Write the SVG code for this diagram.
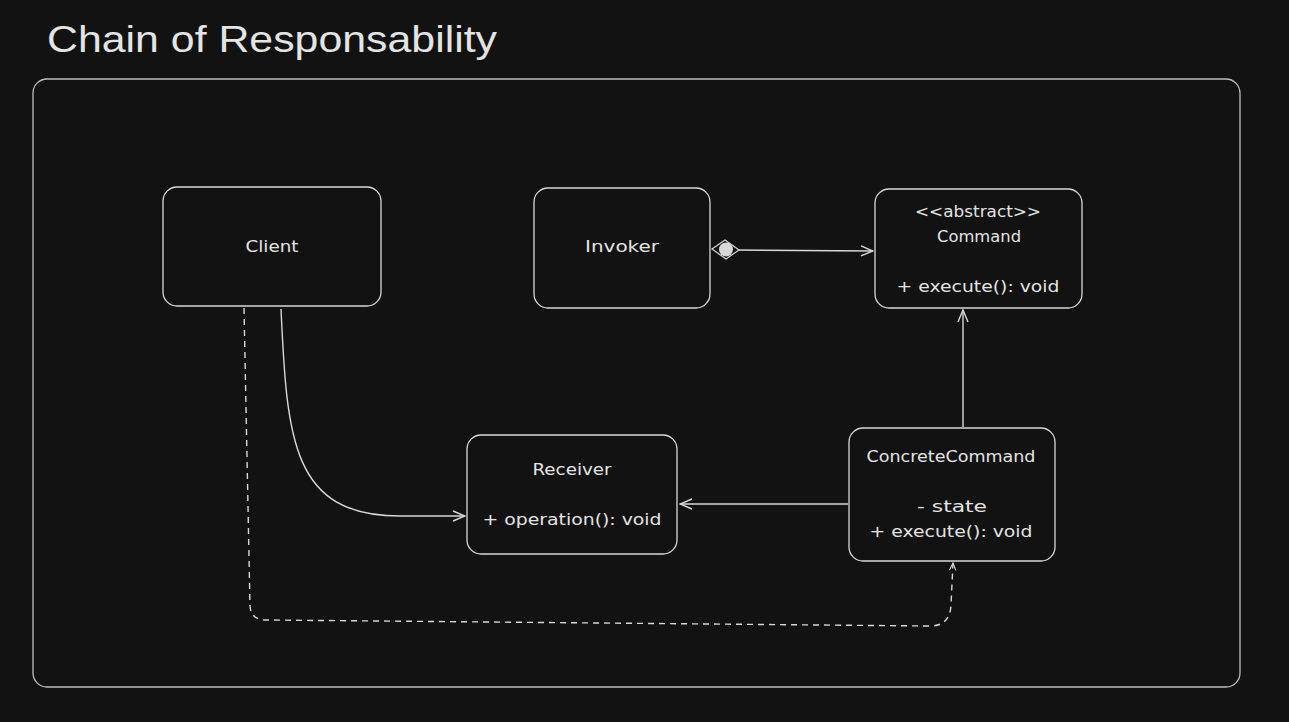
<svg xmlns="http://www.w3.org/2000/svg" width="1289" height="722" viewBox="0 0 1289 722">
<defs>
<style>
.box{fill:#121212;stroke:#d8d8d8;stroke-width:1.3}
.t{fill:#e4e4e4;font-family:"DejaVu Sans","Liberation Sans",Arial,sans-serif;font-size:16px;text-anchor:middle}
.c{fill:none;stroke:#d8d8d8;stroke-width:1.4}
.d{stroke-dasharray:6 5}
</style>
<marker id="arr" viewBox="0 0 14 14" refX="13" refY="7" markerWidth="14" markerHeight="14" markerUnits="userSpaceOnUse" orient="auto">
<path d="M1,2 L13,7 L1,12" fill="none" stroke="#d8d8d8" stroke-width="1.4"/>
</marker>
<marker id="arrs" viewBox="0 0 10 10" refX="9" refY="5" markerWidth="9" markerHeight="9" markerUnits="userSpaceOnUse" orient="auto">
<path d="M1,1.5 L9,5 L1,8.5" fill="none" stroke="#d8d8d8" stroke-width="1.2"/>
</marker>
</defs>
<rect width="1289" height="722" fill="#121212"/>
<text x="47" y="52" fill="#e4e4e4" font-family="'Liberation Sans',Arial,sans-serif" font-size="36" textLength="450" lengthAdjust="spacingAndGlyphs">Chain of Responsability</text>
<rect x="33" y="79" width="1207" height="608" rx="14" fill="none" stroke="#bdbdbd" stroke-width="1.3"/>
<g id="connectors">
<path class="c" d="M738,250 L873,251" marker-end="url(#arr)"/>
<path d="M712,249 L725,240 L739,250 L726,259 Z" fill="#121212" stroke="#d8d8d8" stroke-width="1.2"/>
<circle cx="726" cy="249.5" r="7" fill="#d8d8d8"/>
<path class="c" d="M963,427 L963,310" marker-end="url(#arr)"/>
<path class="c" d="M848,504 L680,504" marker-end="url(#arr)"/>
<path class="c" d="M281,309 C287,440 292,516 400,516 L465,516" marker-end="url(#arr)"/>
<path class="c d" d="M244,308 L250,606 Q251,620 266,620 L930,626 Q950,626 951,605 L953,563" marker-end="url(#arrs)"/>
</g>
<g id="client">
<rect class="box" x="163" y="187" width="218" height="119" rx="14"/>
<text class="t" x="272" y="252" textLength="53" lengthAdjust="spacingAndGlyphs">Client</text>
</g>
<g id="invoker">
<rect class="box" x="534" y="188" width="176" height="120" rx="14"/>
<text class="t" x="622" y="252" textLength="74" lengthAdjust="spacingAndGlyphs">Invoker</text>
</g>
<g id="command">
<rect class="box" x="875" y="189" width="207" height="119" rx="14"/>
<text class="t" x="978" y="217" textLength="126" lengthAdjust="spacingAndGlyphs">&lt;&lt;abstract&gt;&gt;</text>
<text class="t" x="979" y="242" textLength="84" lengthAdjust="spacingAndGlyphs">Command</text>
<text class="t" x="978" y="292" textLength="163" lengthAdjust="spacingAndGlyphs">+ execute(): void</text>
</g>
<g id="receiver">
<rect class="box" x="467" y="435" width="210" height="119" rx="14"/>
<text class="t" x="572" y="475" textLength="79" lengthAdjust="spacingAndGlyphs">Receiver</text>
<text class="t" x="572" y="525" textLength="179" lengthAdjust="spacingAndGlyphs">+ operation(): void</text>
</g>
<g id="concretecommand">
<rect class="box" x="849" y="428" width="206" height="133" rx="14"/>
<text class="t" x="951" y="462" textLength="169" lengthAdjust="spacingAndGlyphs">ConcreteCommand</text>
<text class="t" x="952" y="512" textLength="70" lengthAdjust="spacingAndGlyphs">- state</text>
<text class="t" x="951" y="537" textLength="163" lengthAdjust="spacingAndGlyphs">+ execute(): void</text>
</g>
</svg>
